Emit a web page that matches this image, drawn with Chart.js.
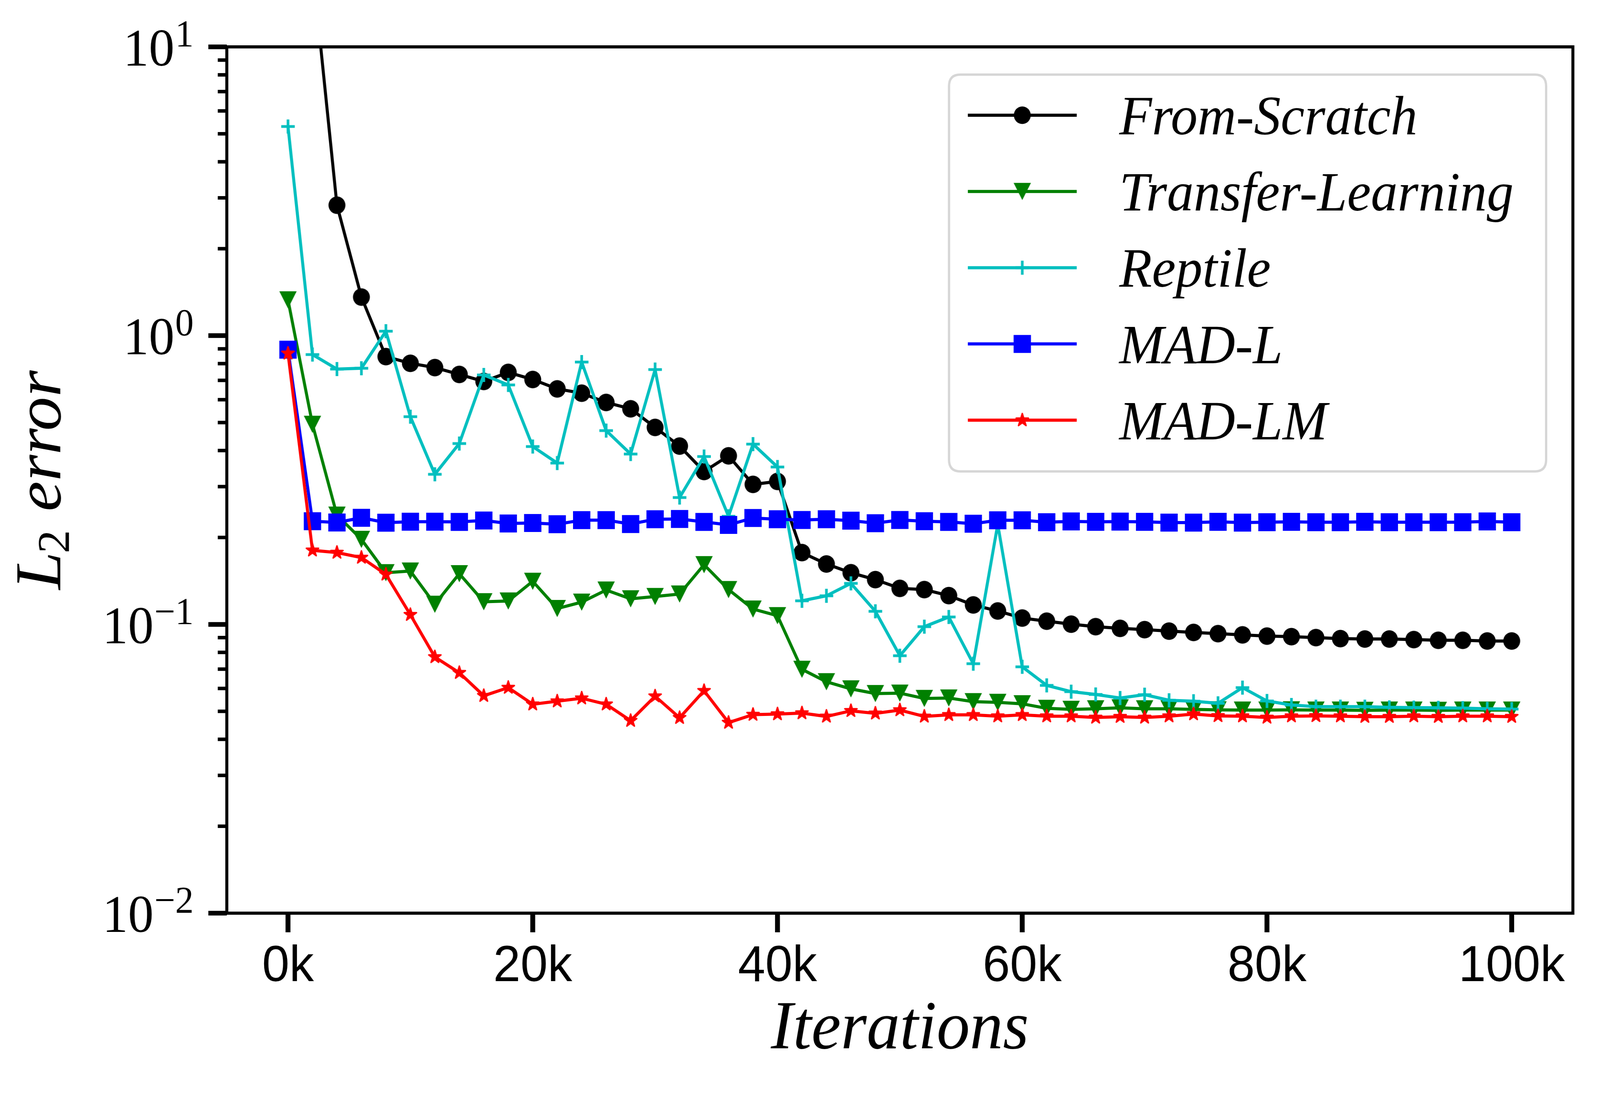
<!DOCTYPE html>
<html>
<head>
<meta charset="utf-8">
<script src="https://cdn.jsdelivr.net/npm/chart.js@4.4.0/dist/chart.umd.min.js"></script>
<style>
html,body{margin:0;padding:0;background:#ffffff;overflow:hidden;width:100%;height:100%}
canvas{display:block}
</style>
</head>
<body>
<canvas id="c" width="4247" height="2801" style="width:100vw;height:100vh"></canvas>
<script>
// ---------------- data ----------------
const iterations = [0,2000,4000,6000,8000,10000,12000,14000,16000,18000,20000,22000,24000,26000,28000,30000,32000,34000,36000,38000,40000,42000,44000,46000,48000,50000,52000,54000,56000,58000,60000,62000,64000,66000,68000,70000,72000,74000,76000,78000,80000,82000,84000,86000,88000,90000,92000,94000,96000,98000,100000];

const fromScratch = [80,19,2.83,1.36,0.846,0.802,0.775,0.734,0.694,0.746,0.705,0.654,0.632,0.587,0.558,0.481,0.4145,0.3385,0.3835,0.3054,0.3127,0.1773,0.1619,0.151,0.1429,0.1333,0.132,0.1258,0.1168,0.1113,0.1052,0.1026,0.1002,0.0982,0.0969,0.0959,0.0948,0.0938,0.0929,0.092,0.0911,0.0907,0.09,0.0893,0.089,0.089,0.0886,0.0881,0.0881,0.0876,0.0876];

const transferLearning = [1.33,0.493,0.239,0.197,0.151,0.153,0.1174,0.1498,0.1198,0.1205,0.141,0.1135,0.1194,0.1315,0.1226,0.1249,0.1274,0.161,0.132,0.113,0.1072,0.0699,0.0633,0.0598,0.0576,0.0578,0.0554,0.0556,0.054,0.0537,0.0531,0.0512,0.0508,0.051,0.0514,0.051,0.051,0.0508,0.0506,0.0505,0.0505,0.0506,0.0505,0.0505,0.0504,0.0505,0.0505,0.0504,0.0505,0.0505,0.0505];

const reptile = [5.30,0.860,0.766,0.771,1.036,0.524,0.331,0.423,0.731,0.675,0.413,0.362,0.810,0.469,0.389,0.763,0.275,0.3814,0.2368,0.421,0.3508,0.1207,0.1256,0.1387,0.111,0.0779,0.0982,0.1061,0.0731,0.222,0.0713,0.0615,0.0585,0.0572,0.0556,0.0571,0.0546,0.0542,0.0533,0.0604,0.0543,0.0526,0.0519,0.0519,0.0519,0.0516,0.0515,0.0514,0.0513,0.051,0.0509];

const madL = [0.894,0.2277,0.2254,0.234,0.225,0.2268,0.2268,0.2264,0.229,0.2236,0.2245,0.2223,0.2297,0.2297,0.2226,0.2313,0.2318,0.2264,0.2211,0.2336,0.2313,0.2299,0.2313,0.2287,0.2241,0.2299,0.2277,0.2264,0.2232,0.2294,0.2294,0.2259,0.2273,0.2266,0.227,0.2266,0.2252,0.2252,0.2266,0.2252,0.2259,0.2266,0.2259,0.2259,0.2266,0.2259,0.2259,0.2259,0.2259,0.2273,0.2259];

const madLM = [0.868,0.1805,0.1773,0.1704,0.149,0.108,0.0771,0.068,0.0566,0.0604,0.0529,0.0542,0.0555,0.0529,0.0464,0.0564,0.0475,0.0589,0.0457,0.0487,0.0489,0.0493,0.048,0.0502,0.0492,0.0505,0.048,0.0486,0.0486,0.0481,0.0486,0.0481,0.0481,0.0476,0.0479,0.0476,0.0481,0.0489,0.0482,0.0481,0.0476,0.0481,0.0482,0.0481,0.0479,0.0479,0.0481,0.0479,0.0481,0.0481,0.0479];

const seriesNames = ['From-Scratch','Transfer-Learning','Reptile','MAD-L','MAD-LM'];
const xTickValues = [0,20000,40000,60000,80000,100000];
const xTickLabels = ['0k','20k','40k','60k','80k','100k'];
const yTickValues = [10,1,0.1,0.01];
const yTickExponents = ['1','0','\u22121','\u22122'];
const xTitle = 'Iterations';
const yTitleMain = 'L';
const yTitleSub = '2';
const yTitleRest = ' error';

// ---------------- marker images ----------------
function makeMarker(kind, color) {
  const S = 64;
  const c = document.createElement('canvas');
  c.width = S; c.height = S;
  const g = c.getContext('2d');
  g.translate(S / 2, S / 2);
  g.fillStyle = color; g.strokeStyle = color;
  if (kind === 'circle') {
    g.beginPath(); g.arc(0, 0, 22.5, 0, Math.PI * 2); g.fill();
  } else if (kind === 'triangleDown') {
    g.beginPath(); g.moveTo(-23, -22); g.lineTo(23, -22); g.lineTo(0, 22); g.closePath(); g.fill();
  } else if (kind === 'plus') {
    g.lineWidth = 7;
    g.beginPath(); g.moveTo(-18, 0); g.lineTo(18, 0); g.moveTo(0, -18); g.lineTo(0, 18); g.stroke();
  } else if (kind === 'square') {
    g.fillRect(-23, -23, 46, 46);
  } else if (kind === 'star') {
    const R = 17, r = R * 0.381966;
    g.beginPath();
    for (let i = 0; i < 10; i++) {
      const rad = (i % 2 === 0) ? R : r;
      const ang = -Math.PI / 2 + i * Math.PI / 5;
      const px = Math.cos(ang) * rad, py = Math.sin(ang) * rad;
      if (i === 0) g.moveTo(px, py); else g.lineTo(px, py);
    }
    g.closePath();
    g.lineWidth = 4; g.lineJoin = 'round';
    g.fill(); g.stroke();
  }
  return c;
}

const colors = ['#000000', '#008000', '#00bfbf', '#0000ff', '#ff0000'];
const markerKinds = ['circle', 'triangleDown', 'plus', 'square', 'star'];
const markers = markerKinds.map((k, i) => makeMarker(k, colors[i]));
const seriesValues = [fromScratch, transferLearning, reptile, madL, madLM];

const datasets = seriesValues.map((vals, i) => ({
  label: seriesNames[i],
  data: iterations.map((x, j) => ({ x: x, y: vals[j] })),
  borderColor: colors[i],
  backgroundColor: colors[i],
  borderWidth: 8,
  pointStyle: markers[i],
  pointRadius: 22,
  pointBorderWidth: 0,
  pointHoverRadius: 22,
  tension: 0,
  fill: false,
  clip: 0,
  order: seriesNames.length - i
}));

// ---------------- decorations plugin ----------------
const decor = {
  id: 'decor',
  afterDatasetsDraw(chart) {
    const { ctx, chartArea: a, scales } = chart;
    const x = scales.x, y = scales.y;
    ctx.save();
    ctx.strokeStyle = '#000';
    ctx.lineCap = 'butt';
    const seg = (x1, y1, x2, y2) => { ctx.beginPath(); ctx.moveTo(x1, y1); ctx.lineTo(x2, y2); ctx.stroke(); };

    // minor log ticks
    ctx.lineWidth = 9;
    for (let e = -2; e < 1; e++) {
      for (let m = 2; m <= 9; m++) {
        const py = y.getPixelForValue(m * Math.pow(10, e));
        seg(a.left, py, a.left - 24, py);
      }
    }
    // major y ticks
    ctx.lineWidth = 12;
    yTickValues.forEach(v => { const py = y.getPixelForValue(v); seg(a.left, py, a.left - 49, py); });
    // major x ticks
    ctx.lineWidth = 13;
    xTickValues.forEach(v => { const px = x.getPixelForValue(v); seg(px, a.bottom, px, a.bottom + 49); });
    // frame
    ctx.lineWidth = 8;
    ctx.strokeRect(a.left, a.top, a.right - a.left, a.bottom - a.top);

    // y tick labels (10 with superscript exponent)
    ctx.fillStyle = '#000';
    ctx.textBaseline = 'alphabetic';
    ctx.textAlign = 'left';
    const baseFont = '136px "Liberation Serif"';
    const supFont = '98px "Liberation Serif"';
    yTickValues.forEach((v, i) => {
      const py = y.getPixelForValue(v);
      const base = py + 48;
      ctx.font = supFont;
      const wSup = ctx.measureText(yTickExponents[i]).width;
      ctx.font = baseFont;
      const wBase = ctx.measureText('10').width;
      const supRight = a.left - 88;
      const supLeft = supRight - wSup;
      const baseLeft = supLeft - 2 - wBase;
      ctx.font = baseFont;
      ctx.fillText('10', baseLeft, base);
      ctx.font = supFont;
      ctx.fillText(yTickExponents[i], supLeft, base - 49);
    });

    // y axis title
    ctx.save();
    ctx.translate(a.left - 442, (a.top + a.bottom) / 2);
    ctx.rotate(-Math.PI / 2);
    const fMain = 'italic 174px "Liberation Serif"';
    const fSub = '120px "Liberation Serif"';
    ctx.font = fMain;
    const wL = ctx.measureText(yTitleMain).width;
    const wR = ctx.measureText(yTitleRest).width;
    ctx.font = fSub;
    const w2 = ctx.measureText(yTitleSub).width;
    const total = wL + w2 + wR;
    let xx = -total / 2;
    ctx.font = fMain; ctx.fillText(yTitleMain, xx, 0); xx += wL;
    ctx.font = fSub; ctx.fillText(yTitleSub, xx - 4, 23); xx += w2;
    ctx.font = fMain; ctx.fillText(yTitleRest, xx, 0);
    ctx.restore();

    // legend
    const boxR = a.right - 71, boxT = a.top + 71;
    const boxL = boxR - 1585, boxB = boxT + 1016;
    const rad = 30;
    ctx.beginPath();
    ctx.moveTo(boxL + rad, boxT);
    ctx.lineTo(boxR - rad, boxT); ctx.quadraticCurveTo(boxR, boxT, boxR, boxT + rad);
    ctx.lineTo(boxR, boxB - rad); ctx.quadraticCurveTo(boxR, boxB, boxR - rad, boxB);
    ctx.lineTo(boxL + rad, boxB); ctx.quadraticCurveTo(boxL, boxB, boxL, boxB - rad);
    ctx.lineTo(boxL, boxT + rad); ctx.quadraticCurveTo(boxL, boxT, boxL + rad, boxT);
    ctx.closePath();
    ctx.fillStyle = 'rgba(255,255,255,0.8)';
    ctx.fill();
    ctx.lineWidth = 6;
    ctx.strokeStyle = '#d6d6d6';
    ctx.stroke();

    ctx.font = 'italic 142px "Liberation Serif"';
    ctx.textBaseline = 'alphabetic';
    ctx.textAlign = 'left';
    seriesNames.forEach((name, i) => {
      const ly = boxT + 104 + i * 195.2;
      const l1 = boxL + 50, l2 = boxL + 339;
      ctx.strokeStyle = colors[i];
      ctx.lineWidth = 8;
      seg(l1, ly, l2, ly);
      const m = markers[i];
      ctx.drawImage(m, (l1 + l2) / 2 - m.width / 2, ly - m.height / 2);
      ctx.fillStyle = '#000';
      ctx.fillText(name, boxL + 452, ly + 49);
    });
    ctx.restore();
  }
};

// ---------------- chart ----------------
new Chart(document.getElementById('c'), {
  type: 'line',
  data: { datasets: datasets },
  options: {
    responsive: false,
    devicePixelRatio: 1,
    animation: false,
    events: [],
    layout: { padding: { left: 0, right: 72, top: 120, bottom: 0 } },
    plugins: { legend: { display: false }, tooltip: { enabled: false }, title: { display: false } },
    scales: {
      x: {
        type: 'linear',
        min: -5000,
        max: 105000,
        afterBuildTicks: s => { s.ticks = xTickValues.map(v => ({ value: v })); },
        afterFit: s => { s.height = 463; },
        grid: { display: false, drawTicks: false },
        border: { display: false },
        ticks: {
          color: '#000',
          padding: 60,
          maxRotation: 0,
          autoSkip: false,
          font: { family: '"Liberation Sans"', size: 130 },
          callback: v => { const k = xTickValues.indexOf(v); return k >= 0 ? xTickLabels[k] : ''; }
        },
        title: {
          display: true,
          text: xTitle,
          color: '#000',
          font: { family: '"Liberation Serif"', size: 176, style: 'italic' },
          padding: { top: 0, bottom: 58 }
        }
      },
      y: {
        type: 'logarithmic',
        min: 0.01,
        max: 10,
        afterFit: s => { s.width = 602; },
        grid: { display: false, drawTicks: false },
        border: { display: false },
        ticks: { display: false }
      }
    }
  },
  plugins: [decor]
});
</script>
</body>
</html>
